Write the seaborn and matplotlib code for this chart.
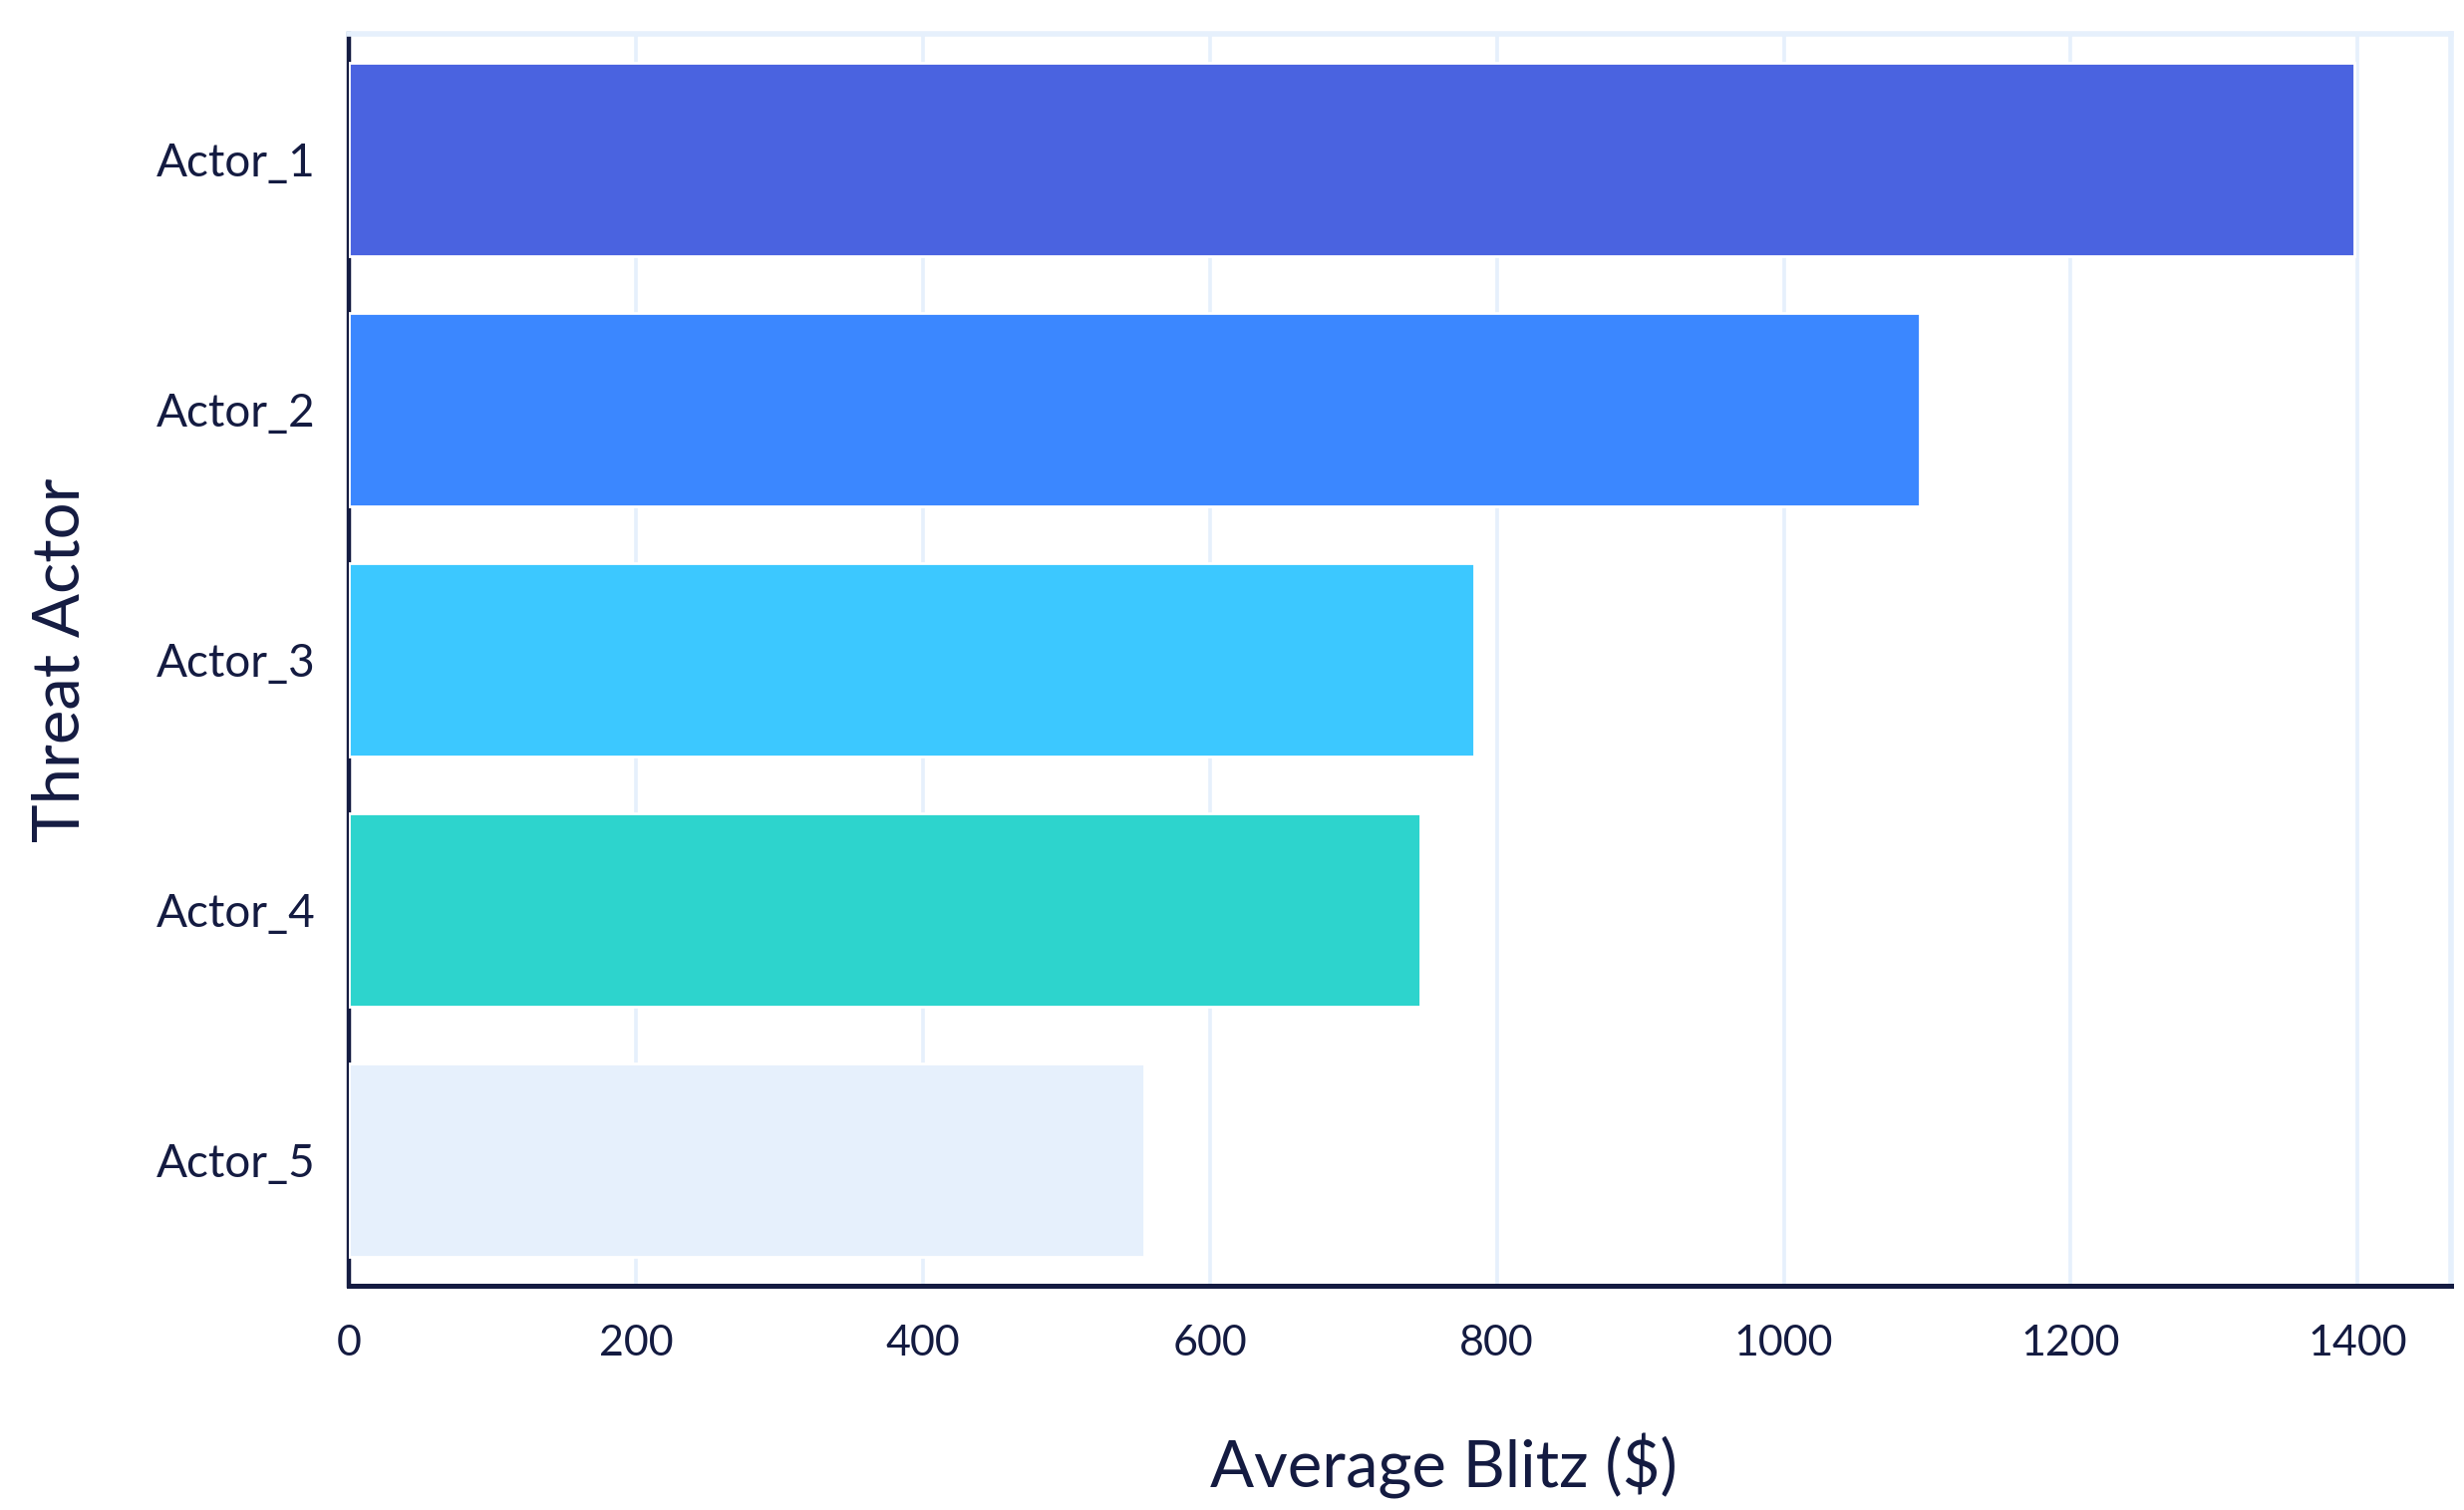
import matplotlib
matplotlib.use("Agg")
import matplotlib.pyplot as plt
import seaborn as sns
import pandas as pd

actors = ["Actor_1", "Actor_2", "Actor_3", "Actor_4", "Actor_5"]
avg_blitz = [1398, 1095, 784, 747, 554]
bar_colors = ["#4A63E0", "#3B87FF", "#3CC8FF", "#2DD4CD", "#E6F0FC"]
x_ticks = [0, 200, 400, 600, 800, 1000, 1200, 1400]

navy = "#141B41"
grid_c = "#E6F0FC"

sns.set_theme(style="white")
plt.rcParams["font.family"] = ["Lato", "DejaVu Sans"]

df = pd.DataFrame({"Threat Actor": actors, "Average Blitz ($)": avg_blitz})

fig = plt.figure(figsize=(12.36, 7.575), dpi=200)
ax = fig.add_axes([0.1416, 0.1487, 0.9947 - 0.1416, 0.9773 - 0.1487])

sns.barplot(data=df, y="Threat Actor", x="Average Blitz ($)", hue="Threat Actor",
            palette=bar_colors, order=actors, orient="h", width=0.775,
            legend=False, ax=ax, saturation=1, zorder=3)

ax.set_xlim(0, 1465)
ax.set_ylim(4.5, -0.5)
ax.set_xticks(x_ticks)
ax.set_xticklabels([str(t) for t in x_ticks])

ax.grid(axis="x", color=grid_c, linewidth=1.3, zorder=0)
ax.grid(axis="y", visible=False)
ax.set_axisbelow(True)

for side in ["top", "right"]:
    ax.spines[side].set_color(grid_c)
    ax.spines[side].set_linewidth(2.0)
ax.spines["left"].set_color(navy)
ax.spines["left"].set_linewidth(1.6)
ax.spines["bottom"].set_color(navy)
ax.spines["bottom"].set_linewidth(1.8)

ax.tick_params(axis="both", length=0, colors=navy)
ax.tick_params(axis="y", pad=12, labelsize=16.5)
ax.tick_params(axis="x", pad=14, labelsize=15.5)

ax.set_xlabel("Average Blitz ($)", fontsize=23.5, color=navy)
ax.xaxis.set_label_coords(0.521, -0.118)
ax.xaxis.label.set_va("top")
ax.set_ylabel("Threat Actor", fontsize=23.5, color=navy, labelpad=24)

fig.savefig("out.png", dpi=200, facecolor="white")
